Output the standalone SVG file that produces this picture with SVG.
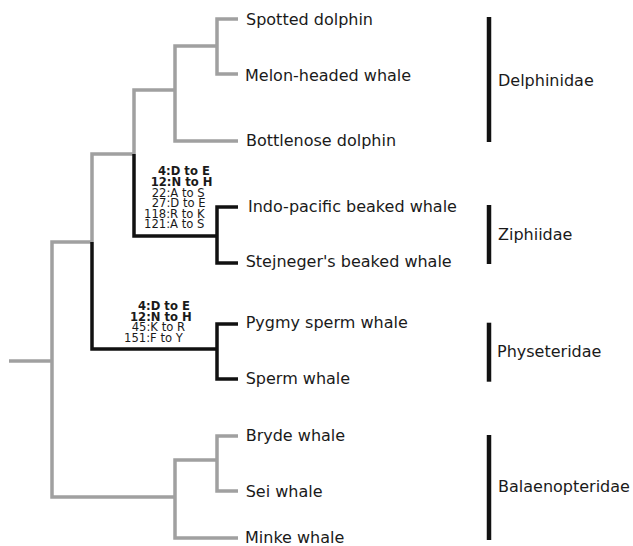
<svg xmlns="http://www.w3.org/2000/svg" width="633" height="546" viewBox="0 0 633 546">
<style>
.g{fill:none;stroke:#a0a0a0;stroke-width:3.5;stroke-linejoin:miter;stroke-linecap:butt}
.k{fill:none;stroke:#111;stroke-width:3.5;stroke-linejoin:miter;stroke-linecap:butt}
.bar{stroke:#111;stroke-width:4.5}
.lbl{font-family:"DejaVu Sans",sans-serif;font-size:16px;fill:#1a1a1a}
.ann{font-family:"DejaVu Sans",sans-serif;font-size:11.6px;fill:#1a1a1a}
.b{font-weight:bold}
</style>
<rect width="633" height="546" fill="#fff"/>
<g id="connectors">
<path class="g" d="M9,361 H52"/>
<path class="g" d="M92,242 H52 V497 H175"/>
<path class="g" d="M134,154 H92 V242"/>
<path class="k" d="M92,242 V349 H217"/>
<path class="g" d="M175,90 H134 V154"/>
<path class="k" d="M134,154 V236 H217"/>
<path class="g" d="M217,46 H175 V141 H238"/>
<path class="g" d="M238,19 H217 V74 H238"/>
<path class="k" d="M238,207 H217 V263 H238"/>
<path class="k" d="M238,324 H217 V379 H238"/>
<path class="g" d="M217,460 H175 V538 H238"/>
<path class="g" d="M238,436 H217 V491 H238"/>
</g>
<g id="annotation-ziphiidae">
<text class="ann b" x="158" y="175">4:D to E</text>
<text class="ann b" x="150.7" y="186">12:N to H</text>
<text class="ann" x="151.7" y="196.7">22:A to S</text>
<text class="ann" x="151.7" y="207">27:D to E</text>
<text class="ann" x="144" y="217.7">118:R to K</text>
<text class="ann" x="144" y="228">121:A to S</text>
</g>
<g id="annotation-physeteridae">
<text class="ann b" x="138" y="310">4:D to E</text>
<text class="ann b" x="130" y="320.7">12:N to H</text>
<text class="ann" x="131.7" y="331">45:K to R</text>
<text class="ann" x="124" y="342.3">151:F to Y</text>
</g>
<g id="leaf-spotted-dolphin"><text class="lbl" x="246" y="24.5">Spotted dolphin</text></g>
<g id="leaf-melon-headed-whale"><text class="lbl" x="245" y="81">Melon-headed whale</text></g>
<g id="leaf-bottlenose-dolphin"><text class="lbl" x="246" y="146">Bottlenose dolphin</text></g>
<g id="leaf-indo-pacific-beaked-whale"><text class="lbl" x="248" y="211.7">Indo-pacific beaked whale</text></g>
<g id="leaf-stejnegers-beaked-whale"><text class="lbl" x="245.7" y="266.7">Stejneger's beaked whale</text></g>
<g id="leaf-pygmy-sperm-whale"><text class="lbl" x="245.7" y="328">Pygmy sperm whale</text></g>
<g id="leaf-sperm-whale"><text class="lbl" x="245.7" y="384">Sperm whale</text></g>
<g id="leaf-bryde-whale"><text class="lbl" x="245.7" y="440.7">Bryde whale</text></g>
<g id="leaf-sei-whale"><text class="lbl" x="245.7" y="497">Sei whale</text></g>
<g id="leaf-minke-whale"><text class="lbl" x="245" y="543">Minke whale</text></g>
<g id="family-delphinidae"><line class="bar" x1="489" y1="17" x2="489" y2="142"/><text class="lbl" x="498" y="86">Delphinidae</text></g>
<g id="family-ziphiidae"><line class="bar" x1="489" y1="205" x2="489" y2="264"/><text class="lbl" x="498" y="240">Ziphiidae</text></g>
<g id="family-physeteridae"><line class="bar" x1="489" y1="322.7" x2="489" y2="381.7"/><text class="lbl" x="497" y="356.7">Physeteridae</text></g>
<g id="family-balaenopteridae"><line class="bar" x1="489" y1="435" x2="489" y2="540"/><text class="lbl" x="498" y="491.7">Balaenopteridae</text></g>
</svg>
